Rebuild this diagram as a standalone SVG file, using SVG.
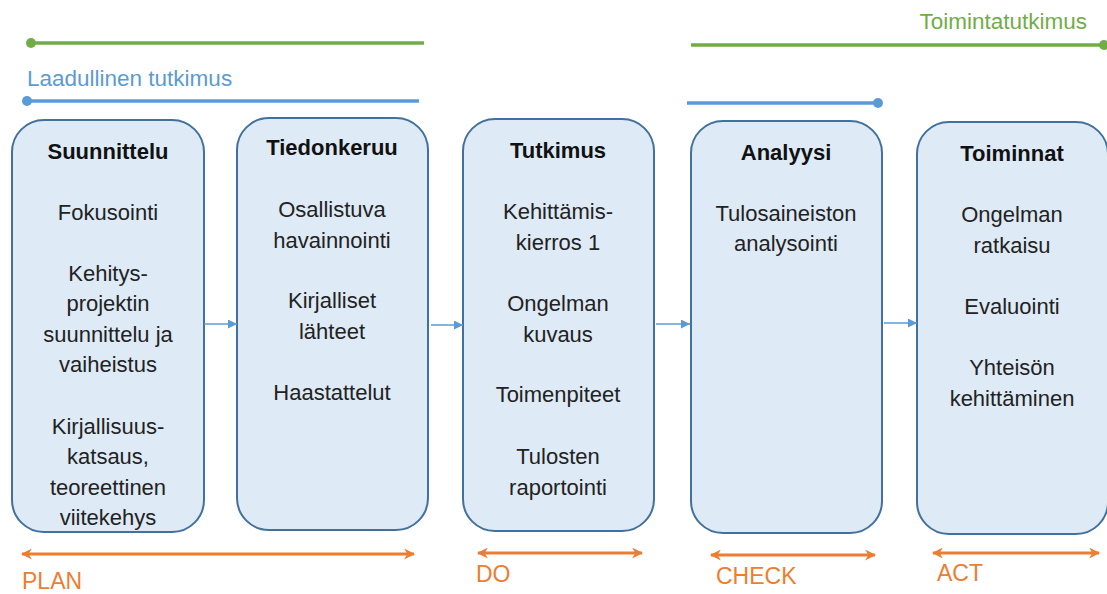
<svg xmlns="http://www.w3.org/2000/svg" width="1107" height="594" viewBox="0 0 1107 594">
  <style>
    text { font-family: "Liberation Sans", Arial, sans-serif; }
    .box { fill: #DEEAF6; stroke: #41719C; stroke-width: 2; }
    .title { font-size: 22px; font-weight: bold; fill: #111; text-anchor: middle; }
    .body { font-size: 22px; fill: #222; text-anchor: middle; }
    .flow { stroke: #5B9BD5; stroke-width: 1.5; fill: none; }
    .phase { stroke: #ED7D31; stroke-width: 3; fill: none; }
    .phase-label { font-size: 23px; fill: #ED7D31; }
    .green { stroke: #70AD47; stroke-width: 3.5; fill: none; }
    .blue { stroke: #5B9BD5; stroke-width: 3.5; fill: none; }
    .range-label { font-size: 22.5px; }
  </style>
  <defs>
    <marker id="flowHead" viewBox="0 0 10 10" refX="10" refY="5" markerWidth="9" markerHeight="9" markerUnits="userSpaceOnUse" orient="auto">
      <path d="M0,0 L10,5 L0,10 Z" fill="#5B9BD5"/>
    </marker>
    <marker id="phaseHead" viewBox="0 0 10 10" refX="9" refY="5" markerWidth="11" markerHeight="11" markerUnits="userSpaceOnUse" orient="auto-start-reverse">
      <path d="M0,0 L10,5 L0,10 L3,5 Z" fill="#ED7D31"/>
    </marker>
  </defs>

  <!-- research ranges -->
  <g id="range-toimintatutkimus">
    <line class="green" x1="31" y1="43" x2="424" y2="43"/>
    <circle cx="31" cy="43" r="5" fill="#70AD47"/>
    <line class="green" x1="691" y1="45" x2="1104" y2="45"/>
    <circle cx="1104" cy="45" r="5" fill="#70AD47"/>
    <text class="range-label" x="1087" y="29" text-anchor="end" fill="#70AD47">Toimintatutkimus</text>
  </g>
  <g id="range-laadullinen">
    <text class="range-label" x="27" y="86" fill="#5B9BD5">Laadullinen tutkimus</text>
    <line class="blue" x1="27" y1="101" x2="419" y2="101"/>
    <circle cx="27" cy="101" r="5" fill="#5B9BD5"/>
    <line class="blue" x1="687" y1="103" x2="878" y2="103"/>
    <circle cx="878" cy="103" r="5" fill="#5B9BD5"/>
  </g>

  <!-- stage nodes -->
  <g id="suunnittelu">
    <rect class="box" x="12" y="120" width="192" height="412" rx="32"/>
    <text class="title" x="108" y="159">Suunnittelu</text>
    <text class="body" x="108" y="220">Fokusointi</text>
    <text class="body" x="108" y="281">Kehitys-</text>
    <text class="body" x="108" y="311">projektin</text>
    <text class="body" x="108" y="342">suunnittelu ja</text>
    <text class="body" x="108" y="372">vaiheistus</text>
    <text class="body" x="108" y="434">Kirjallisuus-</text>
    <text class="body" x="108" y="464">katsaus,</text>
    <text class="body" x="108" y="495">teoreettinen</text>
    <text class="body" x="108" y="525">viitekehys</text>
  </g>
  <g id="tiedonkeruu">
    <rect class="box" x="237" y="118" width="191" height="412" rx="32"/>
    <text class="title" x="332" y="155">Tiedonkeruu</text>
    <text class="body" x="332" y="217">Osallistuva</text>
    <text class="body" x="332" y="248">havainnointi</text>
    <text class="body" x="332" y="308">Kirjalliset</text>
    <text class="body" x="332" y="339">lähteet</text>
    <text class="body" x="332" y="400">Haastattelut</text>
  </g>
  <g id="tutkimus">
    <rect class="box" x="463" y="119" width="191" height="412" rx="32"/>
    <text class="title" x="558" y="158">Tutkimus</text>
    <text class="body" x="558" y="219">Kehittämis-</text>
    <text class="body" x="558" y="250">kierros 1</text>
    <text class="body" x="558" y="311">Ongelman</text>
    <text class="body" x="558" y="342">kuvaus</text>
    <text class="body" x="558" y="402">Toimenpiteet</text>
    <text class="body" x="558" y="464">Tulosten</text>
    <text class="body" x="558" y="495">raportointi</text>
  </g>
  <g id="analyysi">
    <rect class="box" x="691" y="121" width="191" height="412" rx="32"/>
    <text class="title" x="786" y="160">Analyysi</text>
    <text class="body" x="786" y="221">Tulosaineiston</text>
    <text class="body" x="786" y="251">analysointi</text>
  </g>
  <g id="toiminnat">
    <rect class="box" x="917" y="122" width="191" height="412" rx="32"/>
    <text class="title" x="1012" y="161">Toiminnat</text>
    <text class="body" x="1012" y="222">Ongelman</text>
    <text class="body" x="1012" y="253">ratkaisu</text>
    <text class="body" x="1012" y="314">Evaluointi</text>
    <text class="body" x="1012" y="375">Yhteisön</text>
    <text class="body" x="1012" y="406">kehittäminen</text>
  </g>

  <!-- flow between stages -->
  <g id="connectors">
    <line class="flow" x1="204" y1="324" x2="237" y2="324" marker-end="url(#flowHead)"/>
    <line class="flow" x1="431" y1="325" x2="463" y2="325" marker-end="url(#flowHead)"/>
    <line class="flow" x1="656" y1="324" x2="690" y2="324" marker-end="url(#flowHead)"/>
    <line class="flow" x1="884" y1="323" x2="917" y2="323" marker-end="url(#flowHead)"/>
  </g>

  <!-- PDCA phases -->
  <g id="phase-plan">
    <line class="phase" x1="22" y1="554" x2="414" y2="554" marker-start="url(#phaseHead)" marker-end="url(#phaseHead)"/>
    <text class="phase-label" x="22" y="589">PLAN</text>
  </g>
  <g id="phase-do">
    <line class="phase" x1="478" y1="553" x2="642" y2="553" marker-start="url(#phaseHead)" marker-end="url(#phaseHead)"/>
    <text class="phase-label" x="476" y="582">DO</text>
  </g>
  <g id="phase-check">
    <line class="phase" x1="711" y1="555" x2="875" y2="555" marker-start="url(#phaseHead)" marker-end="url(#phaseHead)"/>
    <text class="phase-label" x="716" y="584">CHECK</text>
  </g>
  <g id="phase-act">
    <line class="phase" x1="933" y1="553" x2="1099" y2="553" marker-start="url(#phaseHead)" marker-end="url(#phaseHead)"/>
    <text class="phase-label" x="937" y="581">ACT</text>
  </g>
</svg>
